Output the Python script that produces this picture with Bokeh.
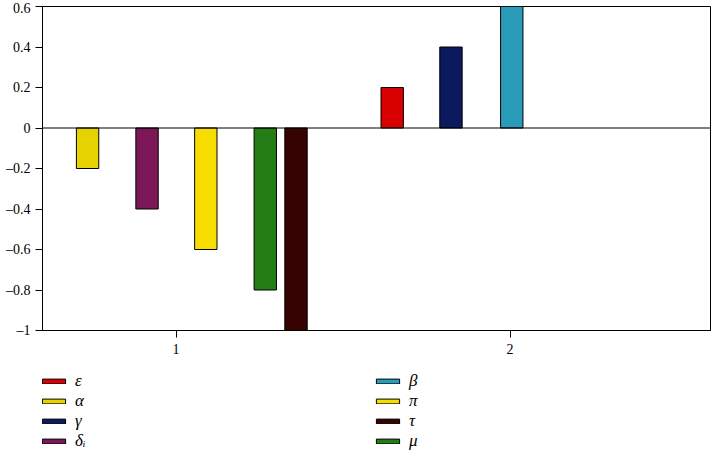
from bokeh.plotting import figure
from bokeh.models import Legend, LegendItem, Span, FixedTicker, Range1d, ColumnDataSource
from bokeh.layouts import column
from bokeh.embed import file_html
from bokeh.resources import INLINE

# ---- data ----
series = ["ε", "α", "γ", "δᵢ", "β", "π", "τ", "μ"]
values = [0.2, -0.2, 0.4, -0.4, 0.6, -0.6, -1.0, -0.8]
xpos = [1.647, 0.735, 1.823, 0.913, 2.005, 1.089, 1.359, 1.267]
colors = ["#D90000", "#E6D200", "#0B1A5E", "#7C1858", "#2A9BB8", "#F7DC00", "#360202", "#257E15"]
bar_width = 0.067
x_ticks = [1, 2]
x_tick_labels = ["1", "2"]
y_ticks = [-1, -0.8, -0.6, -0.4, -0.2, 0, 0.2, 0.4, 0.6]
y_tick_labels = ["–1", "–0.8", "–0.6", "–0.4", "–0.2", "0", "0.2", "0.4", "0.6"]

FONT = "Liberation Serif"
W = 711

p = figure(width=W, height=360, x_range=Range1d(0.6, 2.6), y_range=Range1d(-1, 0.6),
           output_backend="svg", toolbar_location=None,
           min_border_left=42, min_border_right=1, min_border_top=6, min_border_bottom=30)

p.xgrid.visible = False
p.ygrid.visible = False
p.outline_line_color = "black"
p.outline_line_width = 1
p.outline_line_alpha = 1
p.background_fill_color = "white"
p.border_fill_color = "white"

for v, x, c in zip(values, xpos, colors):
    p.vbar(x=[x], top=[v], bottom=0, width=bar_width, fill_color=c,
           line_color="black", line_width=1)

p.add_layout(Span(location=0, dimension="width", line_color="black", line_width=1))

for ax in (p.xaxis[0], p.yaxis[0]):
    ax.axis_line_color = "black"
    ax.major_tick_line_color = "black"
    ax.major_tick_out = 7
    ax.major_tick_in = 0
    ax.minor_tick_line_color = None
    ax.major_label_text_font = FONT
    ax.major_label_text_font_size = "14px"
    ax.major_label_text_color = "black"

p.xaxis.ticker = FixedTicker(ticks=x_ticks)
p.xaxis.major_label_overrides = {t: l for t, l in zip(x_ticks, x_tick_labels)}
p.xaxis.major_label_standoff = 6
p.yaxis.ticker = FixedTicker(ticks=y_ticks)
p.yaxis.major_label_overrides = {t: l for t, l in zip(y_ticks, y_tick_labels)}
p.yaxis.major_label_standoff = 5

# ---- legend strip below the chart (its bars lie outside its own view) ----
q = figure(width=W, height=91, x_range=Range1d(10, 11), y_range=Range1d(10, 11),
           output_backend="svg", toolbar_location=None,
           x_axis_location=None, y_axis_location=None,
           min_border_left=0, min_border_right=0, min_border_top=0, min_border_bottom=0)
q.xgrid.visible = False
q.ygrid.visible = False
q.outline_line_color = None
q.background_fill_color = "white"
q.border_fill_color = "white"

legend_renderers = []
for name, v, x, c in zip(series, values, xpos, colors):
    r = q.vbar(x=[x], top=[v], bottom=0, width=bar_width,
               fill_color=c, line_color="black", line_width=1)
    legend_renderers.append((name, r))

left_col, right_col = legend_renderers[:4], legend_renderers[4:]
ordered = [it for pair in zip(left_col, right_col) for it in pair]
legend = Legend(items=[LegendItem(label=n, renderers=[r]) for n, r in ordered],
                location=(-3, 0), orientation="horizontal", ncols=2,
                border_line_alpha=0, background_fill_alpha=0,
                padding=0, margin=0, spacing=0,
                glyph_width=29, glyph_height=6, label_height=20, label_width=298,
                label_standoff=7, label_text_font=FONT,
                label_text_font_style="italic", label_text_font_size="17px",
                label_text_color="black")
q.add_layout(legend, "center")

layout = column(p, q, spacing=0)
open("out.html", "w").write(file_html(layout, INLINE))
